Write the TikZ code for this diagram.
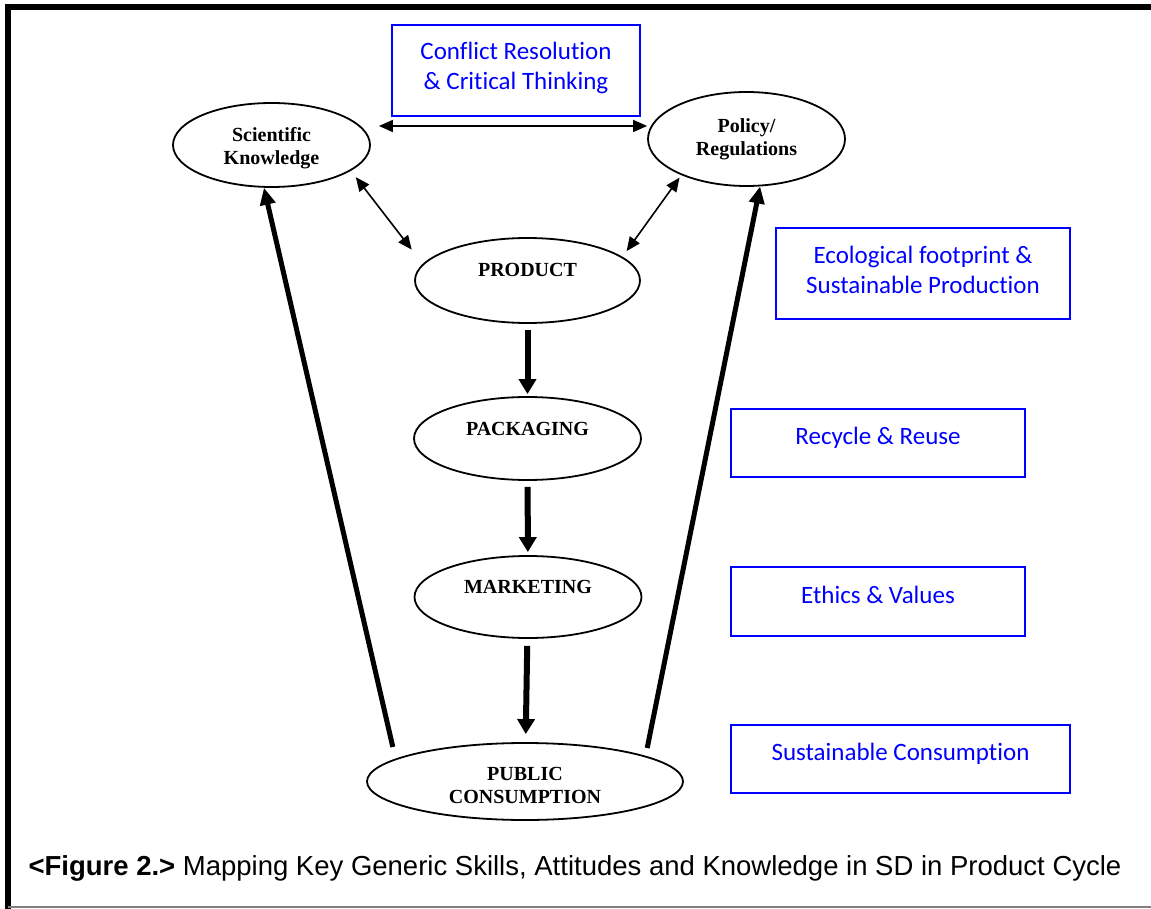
\documentclass[tikz,border=0pt]{standalone}
\usepackage{fontspec}
\newfontfamily\ovalfont{Liberation Serif}
\newfontfamily\skillfont[Ligatures=CommonOff]{Carlito}
\newfontfamily\captionfont{Liberation Sans}
\usepackage{xcolor}
\definecolor{skill}{rgb}{0,0,1}
\definecolor{rim}{rgb}{.5,.5,.5}
\usepackage{tikz}
\usetikzlibrary{arrows.meta, shapes.geometric}
\tikzset{
    stage/.style={ellipse, draw, line width=1.8pt, inner sep=0pt, align=center,
        font={\ovalfont\bfseries\fontsize{20}{23}\selectfont}},
    skillbox/.style={draw=skill, text=skill, line width=2pt, inner sep=0pt,
        align=center, font={\skillfont\fontsize{25}{30}\selectfont}},
    oneline/.style={text height=17.5pt, text depth=14pt},
    twoway/.style={{Triangle[length=14pt,width=12pt]}-{Triangle[length=14pt,width=12pt]},
        line width=1.6pt},
    flow/.style={-{Triangle[length=15pt,width=17pt]}, line width=6pt},
    feedback/.style={-{Triangle[length=17pt,width=15pt]}, line width=5pt},
    }

\begin{document}
\begin{tikzpicture}
    [x=1pt, y=-1pt]
    \useasboundingbox (0,0) rectangle (1151,909);
    % frame
    \draw[line width=6pt] (8,909) -- (8,7) -- (1151,7);
    \draw[rim, line width=1.5pt] (8,907) -- (1151,907);
    % product cycle
    \node[stage, minimum width=197pt, minimum height=84pt, text height=43pt]
        (sci) at (271.5,145) {Scientific\\Knowledge};
    \node[stage, minimum width=197pt, minimum height=94pt]
        (pol) at (746.5,139) {Policy/\\Regulations};
    \node[stage, minimum width=225pt, minimum height=85pt, text depth=21pt]
        (prod) at (527.5,280.5) {PRODUCT};
    \node[stage, minimum width=227pt, minimum height=83pt, text depth=19pt]
        (pack) at (527.5,438.5) {PACKAGING};
    \node[stage, minimum width=227pt, minimum height=82pt, text depth=20pt]
        (mkt) at (528,597) {MARKETING};
    \node[stage, minimum width=316pt, minimum height=77pt, text height=44pt]
        (pub) at (525,781.5) {PUBLIC\\CONSUMPTION};
    % skills
    \node[skillbox, minimum width=248pt, minimum height=91pt, text depth=9pt]
        (conflict) at (516,70.5) {Conflict Resolution\\\& Critical Thinking};
    \node[skillbox, minimum width=294pt, minimum height=91pt, text depth=8pt]
        (footprint) at (923,273.5) {Ecological footprint \&\\Sustainable Production};
    \node[skillbox, oneline, minimum width=294pt, minimum height=68pt]
        (recycle) at (878,443) {Recycle \& Reuse};
    \node[skillbox, oneline, minimum width=294pt, minimum height=69pt]
        (ethics) at (878,601.5) {Ethics \& Values};
    \node[skillbox, oneline, minimum width=339pt, minimum height=68pt]
        (consume) at (900.5,759) {Sustainable Consumption};
    % arrows
    \draw[twoway, shorten <=8pt]
        ([yshift=19pt]sci.east) -- ([yshift=13pt]pol.west);
    \draw[twoway, shorten <=8pt, shorten >=18pt] (sci.-18) -- (prod.171);
    \draw[twoway, shorten <=3pt, shorten >=7pt] (pol.-151) -- (prod.14);
    \draw[flow, shorten <=6pt, shorten >=2pt] (prod) -- (pack);
    \draw[flow, shorten <=6pt, shorten >=3pt] (pack) -- (mkt);
    \draw[flow, shorten <=7pt, shorten >=8pt] (mkt) -- (pub);
    \draw[feedback, shorten <=12pt] (pub.170) -- (sci.260);
    \draw[feedback, shorten <=8pt] (pub.12.5) -- (pol.-74);
    % text
    \node[anchor=base west, font={\captionfont\fontsize{27.5}{33}\selectfont}]
        (caption) at (25,875) {\textbf{<Figure 2.>} Mapping Key Generic Skills,
        Attitudes and Knowledge in SD in Product Cycle};
\end{tikzpicture}
\end{document}
